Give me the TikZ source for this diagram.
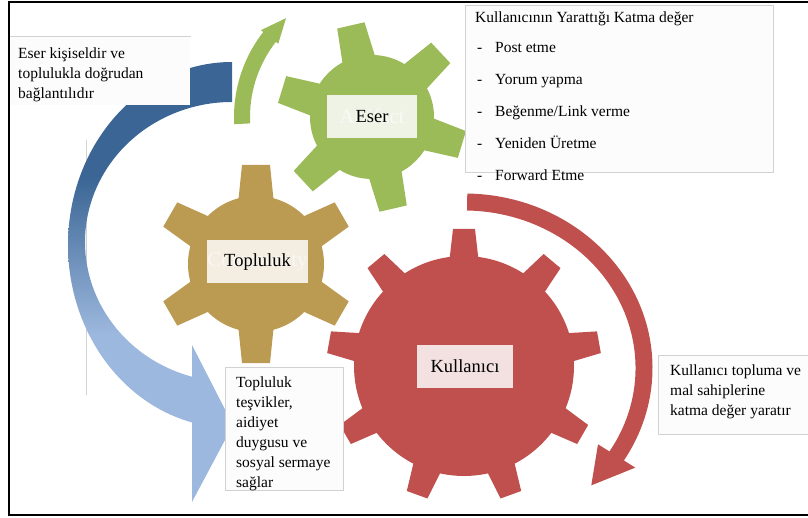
\documentclass[tikz,border=0pt]{standalone}
\usepackage{fontspec}
\setmainfont{Liberation Serif}
\usetikzlibrary{positioning}
\definecolor{gearG}{HTML}{9BBB59}
\definecolor{gearT}{HTML}{BB9A52}
\definecolor{gearR}{HTML}{C0504D}
\definecolor{blueD}{HTML}{3A6594}
\definecolor{blueL}{HTML}{9DB8DE}
\definecolor{lblG}{HTML}{EEF3E6}
\definecolor{lblT}{HTML}{F3EDE2}
\definecolor{lblR}{HTML}{F3E1E1}
\definecolor{boxline}{HTML}{D2D2D2}
\definecolor{notefill}{HTML}{FCFCFC}
\pgfdeclareverticalshading{bluearc}{100bp}{color(0bp)=(blueL); color(44bp)=(blueL); color(62bp)=(blueD); color(100bp)=(blueD)}
% cog: x, y, body radius, tip radius, tooth angles, base half width, tip half width, colour
\newcommand\cog[8]{%
  \begin{scope}[shift={(#1,#2)}]
    \fill[#8] (0,0) circle (#3);
    \foreach \a in {#5}
      \fill[#8,rotate=\a] (#3-8,-#6) -- (#4,-#7) -- (#4,#7) -- (#3-8,#6) -- cycle;
  \end{scope}}
\begin{document}
\begin{tikzpicture}[x=1pt,y=1pt,
  lbl/.style={inner sep=0pt, minimum height=43, font=\fontsize{18.5}{22}\selectfont},
  ghost/.style={text=white, text opacity=.6, inner sep=0pt, font=\fontsize{21}{24}\selectfont},
  notebox/.style={draw=boxline, fill=notefill, line width=.6pt, inner sep=0pt, anchor=north west},
  note/.style={inner sep=0pt, anchor=north west, align=left, font=\fontsize{15.5}{20}\selectfont},
  item/.style={inner sep=0pt, anchor=base west, font=\fontsize{15.5}{18}\selectfont}]
\useasboundingbox (0,0) rectangle (808,517);

% arrows round the cogs
\draw[boxline, line width=.8pt] (86,377) -- (86,122);
\shade[shading=bluearc] (232,455) arc[start angle=90, end angle=255.9, x radius=164, y radius=183]
  -- (192,15) -- (233,92) -- (192,172) -- (192,140.3)
  arc[start angle=254.2, end angle=90, x radius=147, y radius=140] -- cycle;
\fill[gearG] ([shift={(183:138)}]372,400) arc[start angle=183, end angle=142, radius=138]
  -- ([shift={(142:141)}]372,400) -- ([shift={(131:131)}]372,400) -- ([shift={(142:119)}]372,400)
  -- ([shift={(142:122)}]372,400) arc[start angle=142, end angle=183, radius=122] -- cycle;
\fill[gearR] ([shift={(89:188.5 and 174.5)}]464,149) arc[start angle=89, end angle=-32, x radius=188.5, y radius=174.5]
  -- ([shift={(-32:202 and 188)}]464,149) -- ([shift={(-45:180 and 166)}]464,149) -- ([shift={(-32:158 and 144)}]464,149)
  -- ([shift={(-32:171.5 and 157.5)}]464,149) arc[start angle=-32, end angle=89, x radius=171.5, y radius=157.5] -- cycle;

% cogs
\cog{372}{400}{62}{94}{43,103,163,223,283,343}{17}{14}{gearG}
\cog{256}{253}{68}{99}{30,90,150,210,270,330}{18}{14}{gearT}
\cog{464}{151}{110}{137}{10,50,90,130,170,210,250,290,330}{15}{11}{gearR}

% cog labels
\node[lbl, fill=lblG, minimum width=90] (eser) at (372,400.5) {};
\node[ghost] (art) at (eser) {Artifact};
\node[lbl] (tEser) at (eser) {Eser};
\node[lbl, fill=lblT, minimum width=101] (topl) at (257.5,255) {};
\node[ghost] (com) at (topl) {Community};
\node[lbl] (tTopl) at (topl) {Topluluk};
\node[lbl, fill=lblR, minimum width=96] (kull) at (465,150.5) {Kullanıcı};

% notes
\node[notebox, draw=none, minimum width=180, minimum height=69] (bEser) at (10,481) {};
\draw[boxline, line width=.6pt] (bEser.north west) -- (bEser.north east);
\node[note] (nEser) at (18,469.6) {Eser kişiseldir ve\\toplulukla doğrudan\\bağlantılıdır};

\node[notebox, minimum width=308, minimum height=167] (bKull) at (465,512) {};
\node[item] (hKull) at (475,494) {Kullanıcının Yarattığı Katma değer};
\foreach \t [count=\i] in {Post etme, Yorum yapma, Beğenme/Link verme, Yeniden Üretme, Forward Etme}
  \node[item] (it\i) at (477,{464-32*(\i-1)}) {\makebox[18pt][l]{-}\t};

\node[notebox, minimum width=118, minimum height=123] (bTopl) at (225,150) {};
\node[note] (nTopl) at (236,140.6) {Topluluk\\teşvikler,\\aidiyet\\duygusu ve\\sosyal sermaye\\sağlar};

\node[notebox, minimum width=160, minimum height=79] (bDeger) at (658,162) {};
\node[note] (nDeger) at (670,152.6) {Kullanıcı topluma ve\\mal sahiplerine\\katma değer yaratır};

\draw[line width=2pt] (8.5,2) rectangle (815,514.5);
\end{tikzpicture}
\end{document}
